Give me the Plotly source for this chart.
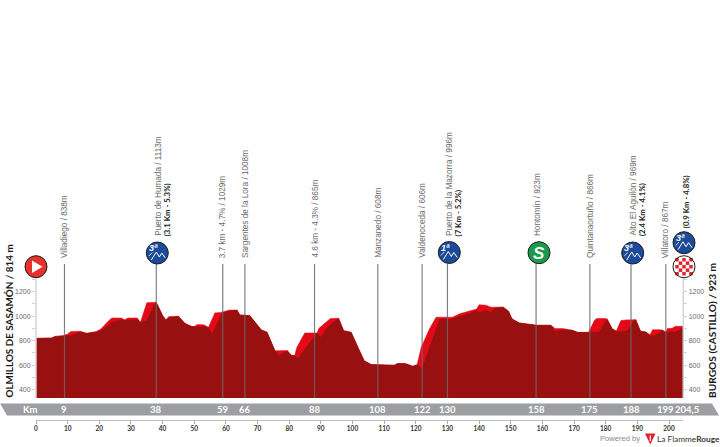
import plotly.graph_objects as go

W, H = 720, 447
# Elevation profile (bright ridge)
profile_km = [0, 5, 6, 8.5, 10, 11, 14, 16, 19, 20.5, 23, 24, 27, 28, 29, 32, 33, 35, 38, 40, 41, 42, 45, 47, 49, 50, 51, 53, 54.5, 56.5, 59, 61, 63.5, 64.4, 67.5, 71.2, 73, 75.5, 79.4, 80.6, 81.7, 82.4, 84.9, 88.8, 89.4, 93, 95.6, 97.2, 99.6, 101.7, 103.7, 105.9, 113.2, 114.3, 116.6, 119, 120.4, 121.7, 124.3, 126.4, 131.6, 133.8, 136.9, 139.2, 140, 142.2, 143.7, 147.6, 149.3, 150.4, 152.7, 156.9, 158.2, 162.7, 164, 166.4, 169.5, 171.1, 174.6, 176.4, 177.1, 180.2, 182.1, 183.4, 184.8, 186.4, 189.5, 191, 192.7, 194, 194.8, 197.4, 199, 199.5, 201, 202, 204.5]
profile_m = [819, 822, 835, 838, 855, 875, 877, 860, 875, 895, 965, 985, 985, 970, 985, 985, 950, 1110, 1113, 1005, 970, 997, 1000, 942, 918, 915, 932, 930, 910, 1027, 1033, 1050, 1050, 1010, 1005, 888, 870, 718, 720, 682, 677, 745, 863, 863, 901, 981, 983, 882, 868, 745, 636, 605, 600, 614, 614, 592, 603, 745, 896, 992, 992, 1019, 1041, 1058, 1093, 1090, 1074, 1074, 1041, 978, 945, 932, 926, 926, 899, 899, 885, 868, 868, 964, 981, 981, 896, 882, 964, 970, 972, 877, 871, 849, 890, 890, 868, 899, 901, 918, 918]
# Darker body in front of the ridge
body_km = [0, 5, 6, 8.5, 10, 11, 14, 16, 19, 20.5, 23, 24, 26, 27, 28, 29, 32, 33, 35, 37.5, 38, 40, 41, 42, 45, 47, 49, 50, 51, 53, 54.5, 55.5, 58.6, 59, 61, 63.5, 64.4, 67.5, 71.2, 73, 75.5, 76.7, 79.4, 80.6, 81.7, 82.8, 88.8, 90, 91.9, 94, 95.6, 97.2, 99.6, 101.7, 103.7, 105.9, 113.2, 114.3, 116.6, 119, 120.4, 122, 127.6, 130.6, 133.8, 136.9, 139.2, 140, 142.2, 143.7, 145.3, 147.6, 149.3, 150.4, 152.7, 156.9, 158.2, 162.7, 164, 166.4, 169.5, 171.1, 174.6, 175.3, 177.9, 180.5, 182.1, 183.7, 186.9, 189, 189.5, 191, 192.7, 194, 195.8, 197.9, 199, 200.6, 201.7, 203.3, 204.5]
body_m = [819, 822, 835, 838, 845, 840, 872, 860, 870, 882, 925, 950, 965, 972, 970, 965, 972, 950, 962, 1100, 1113, 1005, 970, 985, 1000, 942, 918, 915, 910, 915, 905, 850, 1020, 1033, 1041, 1050, 1010, 1005, 888, 870, 718, 677, 718, 682, 677, 655, 863, 827, 904, 951, 983, 882, 868, 745, 636, 605, 600, 614, 614, 592, 603, 573, 978, 973, 997, 1019, 1046, 1033, 1046, 1033, 1068, 1074, 1041, 978, 945, 932, 926, 926, 874, 888, 885, 868, 868, 863, 868, 978, 896, 868, 882, 964, 972, 877, 871, 841, 841, 888, 868, 874, 868, 888, 910]

elev_ticks = [400, 500, 600, 700, 800, 900, 1000, 1100, 1200, 1300]
elev_ticktext = ["400", "", "600", "", "800", "", "1000", "", "1200", ""]
km_ticks = list(range(0, 201, 10))
point_km = [9, 38, 59, 66, 88, 108, 122, 130, 158, 175, 188, 199]
point_ribbon = ["9", "38", "59", "66", "88", "108", "122", "130", "158", "175", "188", "199"]
point_names = ["Villadiego / 838m", "Puerto de Humada / 1113m", "3.7 km - 4.7% / 1029m", "Sargentes de la Lora / 1008m",
               "4.6 km - 4.3% / 865m", "Manzanedo / 608m", "Valdenoceda / 606m", "Puerto de la Mazorra / 996m",
               "Hontomín / 923m", "Quintanaortuño / 866m", "Alto El Aguilón / 969m", "Villatoro / 867m"]
point_details = ["", "(3.1 Km - 5.3%)", "", "", "", "", "", "(7 Km - 5.2%)", "", "", "(2.4 Km - 4.1%)", ""]
point_raised = [False, True, False, False, False, False, False, True, True, False, True, False]
start_label = "OLMILLOS DE SASAMÓN / 814 m"
finish_label = "BURGOS (CASTILLO) / 923 m"
finish_detail = "(0.9 Km - 4.8%)"
total_km = 204.5

NARROW = "Lato, Liberation Sans, sans-serif"
SANS = "Liberation Sans, sans-serif"
px = lambda x: x / W
py = lambda y: 1 - y / H
X0, X1 = 36, 36 + 204.5 * 3.165
BASE_Y = 398
Y_PER_M = 0.1225
base_m = 400 - (BASE_Y - 389.7) / Y_PER_M
top_m = base_m + BASE_Y / Y_PER_M

fig = go.Figure()
fig.add_trace(go.Scatter(x=profile_km, y=profile_m, mode="lines", line=dict(color="#e30a17", width=0.5), fill="tozeroy", fillcolor="#e30a17", hoverinfo="skip"))
fig.add_trace(go.Scatter(x=body_km, y=body_m, mode="lines", line=dict(color="#98100f", width=0.5), fill="tozeroy", fillcolor="#98100f", hoverinfo="skip"))
fig.add_trace(go.Scatter(x=[0], y=[800], yaxis="y2", mode="none", hoverinfo="skip"))

shapes, ann = [], []

def line_px(x0, y0, x1, y1, color, width):
    shapes.append(dict(type="line", xref="paper", yref="paper", x0=px(x0), y0=py(y0), x1=px(x1), y1=py(y1), line=dict(color=color, width=width), layer="above"))

def poly(points, fill=None, color=None, width=0):
    path = "M " + " L ".join(f"{px(a):.5f} {py(b):.5f}" for a, b in points)
    if fill:
        path += " Z"
    shapes.append(dict(type="path", xref="paper", yref="paper", path=path, fillcolor=fill or "rgba(0,0,0,0)", line=dict(color=color or "rgba(0,0,0,0)", width=width), layer="above"))

def circle(cx, cy, r, fill, edge="#1c1c1c", width=1):
    shapes.append(dict(type="circle", xref="paper", yref="paper", x0=px(cx - r), x1=px(cx + r), y0=py(cy + r), y1=py(cy - r), fillcolor=fill, line=dict(color=edge, width=width), layer="above"))

def text(x, y, t, size, color, font=SANS, angle=0, xanchor="center", yanchor="middle", xref="paper"):
    ann.append(dict(x=x if xref == "x" else px(x), y=py(y), xref=xref, yref="paper", text=t, showarrow=False, textangle=angle, xanchor=xanchor, yanchor=yanchor,
                    font=dict(size=size, color=color, family=font), borderpad=0, borderwidth=0))

# Ribbon
shapes.append(dict(type="path", xref="paper", yref="paper", layer="below", fillcolor="#9c9ea1", line=dict(width=0),
                   path=f"M 0 {py(403.5)} L {px(712)} {py(403.5)} L {px(719)} {py(415.5)} L {px(7)} {py(415.5)} Z"))
text(30, 409.5, "<b>Km</b>", 9.5, "white", NARROW)
for k, t in zip(point_km, point_ribbon):
    text(k, 409.5, f"<b>{t}</b>", 9.5, "white", NARROW, xref="x")
text(675, 409.5, f"<b>{str(total_km).replace('.', ',')}</b>", 9.5, "white", NARROW, xanchor="left")

# Stems and labels
for k, name, detail, raised in zip(point_km, point_names, point_details, point_raised):
    xp = X0 + k * 3.165
    shapes.append(dict(type="line", xref="x", yref="paper", x0=k, x1=k, y0=py(398), y1=py(264), line=dict(color="rgba(105,105,105,0.85)", width=1.2), layer="above"))
    bottom = 236 if raised else 258
    text(xp + (1.5 if raised else 0), bottom, name, 8.2, "#6a6a6a", SANS, angle=-90, yanchor="bottom")
    if detail:
        text(xp + 10.5, bottom, f"<b>{detail}</b>", 7.8, "#222222", NARROW, angle=-90, yanchor="bottom")
text(685.7, 228, f"<b>{finish_detail}</b>", 7.8, "#222222", NARROW, angle=-90, yanchor="bottom")

# Left and right rails
line_px(X0, 278, X0, 398, "#d4d4d4", 1.5)
line_px(X1, 278, X1, 398, "#d4d4d4", 1.5)

# Big place names
text(8, 398, f"<b>{start_label}</b>", 9.9, "#1a1a1a", NARROW, angle=-90, yanchor="bottom")
text(711.5, 398, f"<b>{finish_label}</b>", 10.2, "#1a1a1a", NARROW, angle=-90, yanchor="bottom")

# Start icon
circle(36, 266.7, 11, "#e5322b")
poly([(32, 260.5), (32, 273), (42.5, 266.7)], fill="white")

def climb(cx, cy, cat):
    circle(cx, cy, 11, "#1d4b9b")
    text(cx - 4, cy - 4.5, f"<b><i>{cat}ª</i></b>", 9, "white", SANS)
    poly([(cx - 6, cy + 7), (cx - 1, cy - 1), (cx + 2, cy + 4), (cx + 4.5, cy + 0), (cx + 8, cy + 5)], color="white", width=1)
    poly([(cx - 8.5, cy + 3), (cx - 5, cy - 0.5)], color="white", width=0.8)

climb(157.3, 253, 3)
climb(449.3, 252.5, 1)
climb(632.7, 253, 3)
climb(684, 242.7, 3)

# Sprint icon
circle(539, 252.7, 11, "#1a9a4c")
text(539, 253, "<b><i>S</i></b>", 17, "white", SANS)

# Finish icon
fcx, fcy, fr = 684, 266.7, 11
circle(fcx, fcy, fr, "white", edge="rgba(0,0,0,0)")
step = 3.5
for i in range(-3, 4):
    for j in range(-3, 4):
        if (i + j) % 2 == 0 and ((i * step) ** 2 + (j * step) ** 2) ** 0.5 < fr - 0.5:
            c = (fcx + i * step, fcy + j * step)
            h = step / 2
            poly([(c[0] - h, c[1] - h), (c[0] + h, c[1] - h), (c[0] + h, c[1] + h), (c[0] - h, c[1] + h)], fill="#e0222c")
circle(fcx, fcy, fr, "rgba(0,0,0,0)")

# Footer
text(640, 438.5, "Powered by", 7.6, "#8a8a8a", SANS, xanchor="right")
poly([(645, 433.5), (655.5, 433.5), (650.3, 444.5)], fill="#e0202a")
line_px(650.3, 435.5, 650.3, 441, "white", 1.2)
text(656.5, 438.5, "La Flamme<b>Rouge</b>", 8.3, "#333333", NARROW, xanchor="left")

tick_font = dict(size=7, color="#6a6a6a", family=SANS)
fig.update_layout(
    width=W, height=H, margin=dict(l=0, r=0, t=0, b=0, autoexpand=False), paper_bgcolor="white", plot_bgcolor="white", showlegend=False,
    shapes=shapes, annotations=ann,
    xaxis=dict(domain=[px(X0), px(X1)], range=[0, total_km], anchor="free", position=py(419.5), tickmode="array", tickvals=km_ticks, automargin=False,
               ticks="outside", ticklen=3, tickcolor="#aaaaaa", showline=True, linecolor="#bdbdbd", linewidth=1, showgrid=False, zeroline=False,
               tickfont=dict(size=6.5, color="#333333", family=NARROW, weight=700), tickangle=0),
    yaxis=dict(domain=[py(BASE_Y), 1], range=[base_m, top_m], tickmode="array", tickvals=elev_ticks, ticktext=elev_ticktext, ticks="outside", ticklen=3, automargin=False,
               tickcolor="#d0d0d0", showgrid=False, zeroline=False, showline=False, tickfont=tick_font),
    yaxis2=dict(domain=[py(BASE_Y), 1], range=[base_m, top_m], overlaying="y", side="right", anchor="x", tickmode="array", tickvals=elev_ticks, ticktext=elev_ticktext, ticks="outside", ticklen=3, automargin=False,
                tickcolor="#d0d0d0", showgrid=False, zeroline=False, showline=False, tickfont=tick_font),
)
fig.write_html("out.html", config=dict(displayModeBar=False),
               post_script="document.documentElement.style.overflow='hidden';document.body.style.margin='0';document.body.style.overflow='hidden';")
